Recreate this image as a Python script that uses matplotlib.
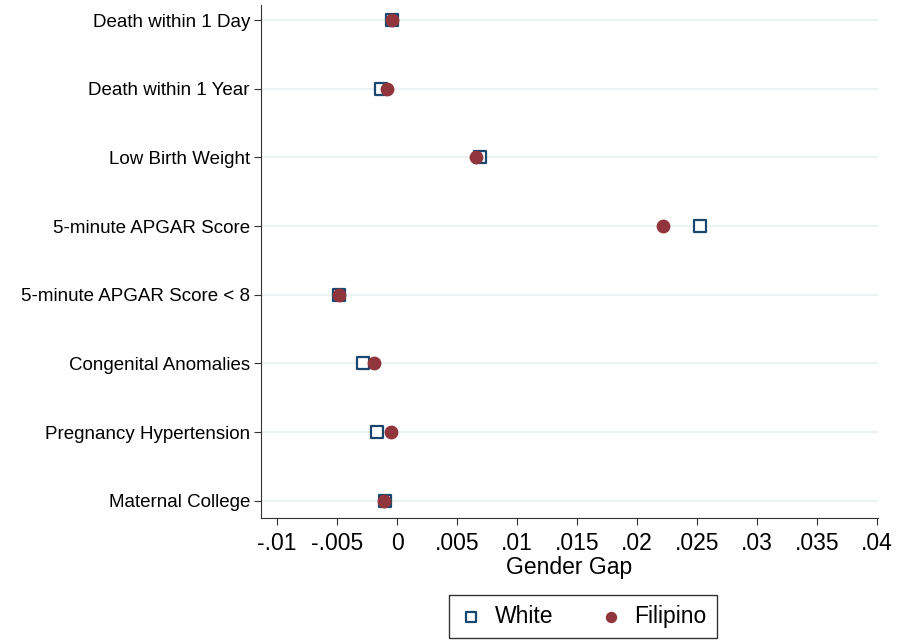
import matplotlib
matplotlib.use("Agg")
import matplotlib.pyplot as plt

categories = ["Death within 1 Day", "Death within 1 Year", "Low Birth Weight",
              "5-minute APGAR Score", "5-minute APGAR Score < 8",
              "Congenital Anomalies", "Pregnancy Hypertension", "Maternal College"]
white = [-0.0004, -0.0013, 0.0069, 0.0253, -0.0048, -0.0028, -0.0017, -0.0010]
filipino = [-0.0004, -0.0008, 0.0066, 0.0222, -0.0048, -0.0019, -0.0005, -0.0011]
xticks = [-0.01, -0.005, 0, 0.005, 0.01, 0.015, 0.02, 0.025, 0.03, 0.035, 0.04]
xticklabels = ["-.01", "-.005", "0", ".005", ".01", ".015", ".02", ".025", ".03", ".035", ".04"]

plt.rcParams['font.family'] = ['Liberation Sans', 'DejaVu Sans']

fig = plt.figure(figsize=(8.99, 6.41), dpi=100)
ax = fig.add_axes([261/899, 1-518/641, (878-261)/899, (518-5)/641])

y = list(range(len(categories)))
for yi in y:
    ax.axhline(yi, color="#eaf2f3", lw=1.5, zorder=0)

ax.scatter(white, y, marker="s", s=70, facecolors="white", edgecolors="#1a476f",
           linewidths=1.6, zorder=3, label="White")
ax.scatter(filipino, y, marker="o", s=80, color="#90353b", zorder=4, label="Filipino")

ax.set_ylim(7.25, -0.22)
ax.set_xlim(-0.01134, 0.0401)
ax.set_yticks(y)
ax.set_yticklabels(categories, fontsize=13.5)
ax.set_xticks(xticks)
ax.set_xticklabels(xticklabels, fontsize=16.5)
ax.set_xlabel("Gender Gap", fontsize=16.5, labelpad=1)
ax.spines["top"].set_visible(False)
ax.spines["right"].set_visible(False)
ax.spines["left"].set_color("#333333")
ax.spines["bottom"].set_color("#333333")
ax.tick_params(axis="y", direction="out", length=5, color="#333333", pad=3)
ax.tick_params(axis="x", direction="out", length=5, color="#333333", pad=5)

leg = fig.legend(loc="center", bbox_to_anchor=(583/899, 1-616.5/641), ncol=2,
                 fontsize=16.5, frameon=True, fancybox=False, edgecolor="black",
                 handletextpad=0.55, columnspacing=2.0, borderpad=0.45,
                 borderaxespad=0, handlelength=1.0, markerscale=0.8)
leg.get_frame().set_linewidth(1.0)

fig.savefig("out.png", dpi=100, facecolor="white")
